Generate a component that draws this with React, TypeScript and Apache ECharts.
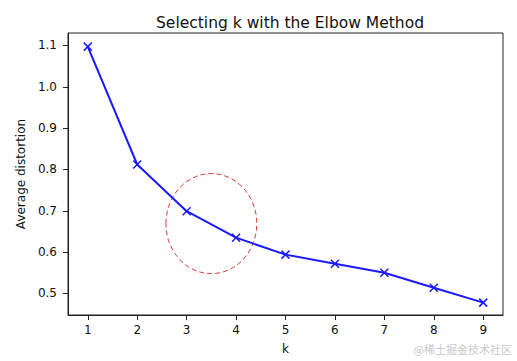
import React, { useEffect, useRef } from "react";
import * as echarts from "echarts";

const kValues = [1, 2, 3, 4, 5, 6, 7, 8, 9];
const distortions = [1.097, 0.812, 0.699, 0.635, 0.594, 0.572, 0.55, 0.514, 0.478];
const xTicks = [1, 2, 3, 4, 5, 6, 7, 8, 9];
const yTicks = [0.5, 0.6, 0.7, 0.8, 0.9, 1.0, 1.1];
// ellipse: center x, center y, radius x, radius y (data units)
const ellipseData = [[3.5, 0.669, 0.92, 0.121]];

const FONT = "DejaVu Sans";

export default function App() {
  const ref = useRef<HTMLDivElement>(null);
  useEffect(() => {
    if (!ref.current) return;
    const chart = echarts.init(ref.current, undefined, { renderer: "svg" });
    chart.setOption({
      animation: false,
      backgroundColor: "#ffffff",
      title: {
        text: "Selecting k with the Elbow Method",
        left: 285,
        top: 10,
        textAlign: "center",
        textStyle: { fontFamily: FONT, fontSize: 15.5, fontWeight: "normal", color: "#111" },
      },
      grid: {
        left: 68,
        right: 14,
        top: 33,
        bottom: 46,
        show: true,
        borderColor: "#222",
        borderWidth: 1,
        backgroundColor: "transparent",
      },
      xAxis: {
        type: "value",
        min: 0.6,
        max: 9.4,
        name: "k",
        nameLocation: "middle",
        nameGap: 28,
        nameTextStyle: { fontFamily: FONT, fontSize: 12, color: "#111" },
        axisLine: { show: true, onZero: false, lineStyle: { color: "#222", width: 1 } },
        axisTick: { show: true, length: 5, lineStyle: { color: "#222" }, customValues: xTicks },
        axisLabel: {
          fontFamily: FONT,
          fontSize: 12,
          color: "#111",
          margin: 9,
          customValues: xTicks,
          formatter: (v: number) => String(v),
        },
        splitLine: { show: false },
      },
      yAxis: {
        type: "value",
        min: 0.448,
        max: 1.13,
        name: "Average distortion",
        nameLocation: "middle",
        nameGap: 38,
        nameTextStyle: { fontFamily: FONT, fontSize: 12, color: "#111" },
        axisLine: { show: true, onZero: false, lineStyle: { color: "#222", width: 1 } },
        axisTick: { show: true, length: 5, lineStyle: { color: "#222" }, customValues: yTicks },
        axisLabel: {
          fontFamily: FONT,
          fontSize: 12,
          color: "#111",
          margin: 11,
          customValues: yTicks,
          formatter: (v: number) => v.toFixed(1),
        },
        splitLine: { show: false },
      },
      series: [
        {
          type: "line",
          data: kValues.map((k, i) => [k, distortions[i]]),
          symbol: "path://M0,0L10,10M10,0L0,10",
          symbolSize: 8,
          showAllSymbol: true,
          lineStyle: { color: "#1a1aff", width: 2 },
          itemStyle: { color: "#1a1aff", borderColor: "#1a1aff", borderWidth: 1.5 },
          z: 3,
        },
        {
          type: "custom",
          data: ellipseData,
          z: 2,
          renderItem: (params: any, api: any) => {
            const c = api.coord([api.value(0), api.value(1)]);
            const s = api.size([api.value(2), api.value(3)]);
            return {
              type: "ellipse",
              shape: { cx: c[0], cy: c[1], rx: s[0], ry: s[1] },
              style: { fill: "none", stroke: "#e03c3c", lineWidth: 1, lineDash: [5, 3] },
            };
          },
        },
      ],
      graphic: [
        {
          type: "text",
          right: 5,
          top: 343,
          style: {
            text: "@稀土掘金技术社区",
            font: '11px "Noto Sans CJK SC"',
            fill: "#c8c8c8",
          },
        },
      ],
    });
    return () => chart.dispose();
  }, []);
  return <div ref={ref} style={{ position: "fixed", left: 0, top: 0, width: 517, height: 361 }} />;
}
